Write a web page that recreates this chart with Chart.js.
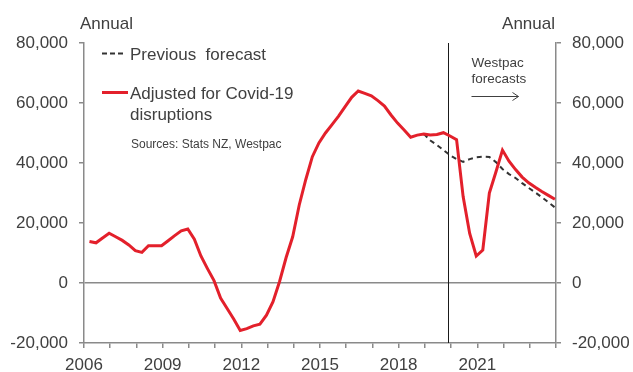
<!DOCTYPE html>
<html>
<head>
<meta charset="utf-8">
<script src="https://cdn.jsdelivr.net/npm/chart.js@4/dist/chart.umd.min.js"></script>
<style>
  html, body { margin: 0; padding: 0; background: #fff; }
  canvas { display: block; }
</style>
</head>
<body>
<canvas id="migration" width="633" height="372"></canvas>
<script>
// Net migration, annual total, quarterly readings (mid-quarter-end month)
const firstYear = 2006;
const lastYear  = 2023;
const quarterMonths = [3, 6, 9, 12];

// Adjusted for Covid-19 disruptions
const adjusted = [
  13800, 13400, 15000, 16600,   // 2006
  15400, 14200, 12700, 10800,   // 2007
  10200, 12400, 12400, 12400,   // 2008
  14100, 15800, 17400, 18000,   // 2009
  14600,  9000,  4800,   800,   // 2010
  -5000, -8500, -12000, -15800, // 2011
  -15200, -14300, -13700, -10700, // 2012
  -6200,   500,  8500, 15400,   // 2013
  26000, 34500, 42100, 46700,   // 2014
  50000, 52800, 55600, 58800,   // 2015
  61900, 64000, 63200, 62400,   // 2016
  60800, 59000, 56000, 53300,   // 2017
  51000, 48600, 49300, 49700,   // 2018
  49300, 49500, 50100, 49000,   // 2019
  47800, 28800, 16500,  9000,   // 2020
  11000, 30000, 37000, 44300,   // 2021
  40600, 37800, 35300, 33400,   // 2022
  31900, 30500, 29200, 27900    // 2023
];

// Previous forecast, from Q4 2018 onwards
const previousStartIndex = 51;
const previous = [
  49700, 47500, 46000, 44300, 42600, 41300, 40400, 41300, 41900, 42100,
  42000, 40300, 38000, 36300, 35000, 33300, 31700, 30200, 28600, 26900, 25200
];

const yTicks = [-20000, 0, 20000, 40000, 60000, 80000];
const forecastStart = 2019.9;

// decimal year for each reading
const dates = [];
for (let y = firstYear; y <= lastYear; y++) {
  quarterMonths.forEach(m => dates.push(y + (m - 0.5) / 12));
}

const adjustedPts = adjusted.map((v, i) => ({ x: dates[i], y: v }));
const previousPts = previous.map((v, i) => ({ x: dates[previousStartIndex + i], y: v }));

const TXT   = '#404040';
const AXIS  = '#8a8a8a';
const RED   = '#e3202b';
const FONT  = "'Liberation Sans', Arial, sans-serif";

const fmt = v => v.toLocaleString('en-US');

// annotations: titles, legend, forecast divider
const decorations = {
  id: 'decorations',
  beforeDatasetsDraw(chart) {
    const { ctx, chartArea, scales } = chart;
    const x = Math.round(scales.x.getPixelForValue(forecastStart)) + 0.5;
    ctx.save();
    ctx.strokeStyle = '#1a1a1a';
    ctx.lineWidth = 1;
    ctx.beginPath();
    ctx.moveTo(x, chartArea.top);
    ctx.lineTo(x, chartArea.bottom);
    ctx.stroke();
    ctx.restore();
  },
  afterDraw(chart) {
    const { ctx, chartArea, scales } = chart;
    const L = chartArea.left, R = chartArea.right;
    ctx.save();
    ctx.fillStyle = TXT;
    ctx.textBaseline = 'alphabetic';

    ctx.font = `17px ${FONT}`;
    ctx.textAlign = 'left';
    ctx.fillText('Annual', L - 4, 29);
    ctx.textAlign = 'right';
    ctx.fillText('Annual', R - 1, 29);

    // legend
    ctx.textAlign = 'left';
    ctx.fillText('Previous  forecast', L + 46, 60);
    ctx.fillText('Adjusted for Covid-19', L + 46, 99);
    ctx.fillText('disruptions', L + 46, 119.5);

    ctx.lineWidth = 2;
    ctx.strokeStyle = '#333';
    ctx.setLineDash([5, 3]);
    ctx.beginPath();
    ctx.moveTo(L + 18, 53.5);
    ctx.lineTo(L + 42, 53.5);
    ctx.stroke();
    ctx.setLineDash([]);

    ctx.lineWidth = 3;
    ctx.strokeStyle = RED;
    ctx.beginPath();
    ctx.moveTo(L + 18, 92.5);
    ctx.lineTo(L + 44, 92.5);
    ctx.stroke();

    ctx.font = `12px ${FONT}`;
    ctx.fillText('Sources: Stats NZ, Westpac', L + 47, 148);

    // forecast note with arrow
    const fx = scales.x.getPixelForValue(forecastStart) + 23;
    ctx.font = `13.5px ${FONT}`;
    ctx.fillText('Westpac', fx, 67);
    ctx.fillText('forecasts', fx, 82.5);

    ctx.strokeStyle = TXT;
    ctx.lineWidth = 1;
    ctx.beginPath();
    ctx.moveTo(fx, 96.5);
    ctx.lineTo(fx + 47, 96.5);
    ctx.moveTo(fx + 41, 92.5);
    ctx.lineTo(fx + 47, 96.5);
    ctx.lineTo(fx + 41, 100.5);
    ctx.stroke();
    ctx.restore();
  }
};

new Chart(document.getElementById('migration'), {
  type: 'line',
  data: {
    datasets: [
      {
        label: 'Previous  forecast',
        data: previousPts,
        borderColor: '#333',
        borderWidth: 2,
        borderDash: [5, 4],
        pointRadius: 0,
        tension: 0,
        order: 1,
      },
      {
        label: 'Adjusted for Covid-19 disruptions',
        data: adjustedPts,
        borderColor: RED,
        borderWidth: 3,
        pointRadius: 0,
        tension: 0,
        order: 0,
      },
    ],
  },
  options: {
    responsive: false,
    animation: false,
    layout: { padding: { top: 43, left: 0, right: 0, bottom: 0 } },
    plugins: {
      legend: { display: false },
      tooltip: { enabled: false },
    },
    scales: {
      x: {
        type: 'linear',
        min: firstYear,
        max: lastYear + 1,
        afterFit: s => { s.height = 29; },
        ticks: {
          stepSize: 1,
          autoSkip: false,
          maxRotation: 0,
          padding: 7,
          color: TXT,
          font: { family: FONT, size: 17 },
          callback: v => ((v - firstYear) % 3 === 0 && v <= lastYear) ? String(v) : '',
        },
        grid: { drawOnChartArea: false, tickLength: 5, tickColor: AXIS, lineWidth: 1.5 },
        border: { color: AXIS, width: 1.5 },
      },
      y: {
        position: 'left',
        min: yTicks[0],
        max: yTicks[yTicks.length - 1],
        afterFit: s => { s.width = 84; },
        afterBuildTicks: s => { s.ticks = yTicks.map(v => ({ value: v })); },
        ticks: {
          padding: 11,
          color: TXT,
          font: { family: FONT, size: 17 },
          callback: fmt,
        },
        grid: {
          drawOnChartArea: true,
          tickLength: 5,
          tickColor: AXIS,
          lineWidth: 1.5,
          color: c => (c.tick && c.tick.value === 0) ? AXIS : 'rgba(0,0,0,0)',
        },
        border: { color: AXIS, width: 1.5 },
      },
      y2: {
        position: 'right',
        min: yTicks[0],
        max: yTicks[yTicks.length - 1],
        afterFit: s => { s.width = 77; },
        afterBuildTicks: s => { s.ticks = yTicks.map(v => ({ value: v })); },
        ticks: {
          padding: 11,
          color: TXT,
          font: { family: FONT, size: 17 },
          callback: fmt,
        },
        grid: { drawOnChartArea: false, tickLength: 5, tickColor: AXIS, lineWidth: 1.5 },
        border: { color: AXIS, width: 1.5 },
      },
    },
  },
  plugins: [decorations],
});
</script>
</body>
</html>
